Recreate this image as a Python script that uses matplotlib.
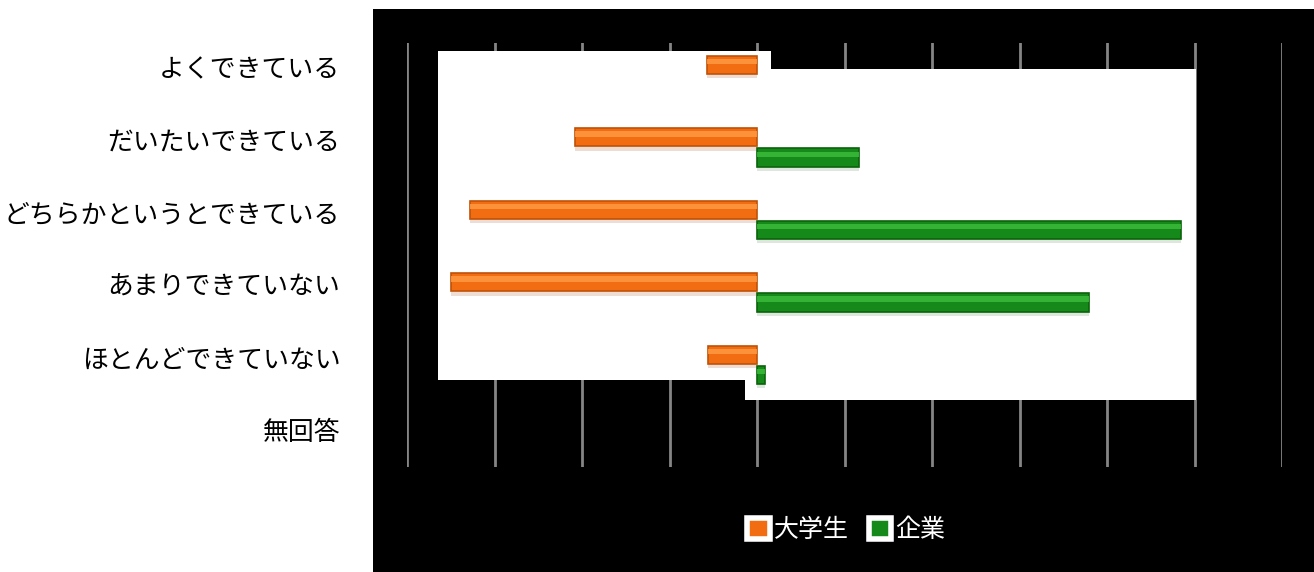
import matplotlib
matplotlib.use("Agg")
import matplotlib.pyplot as plt
from matplotlib.patches import Rectangle, Patch

plt.rcParams['font.family'] = ['Noto Sans CJK JP', 'DejaVu Sans']

categories = ["よくできている", "だいたいできている", "どちらかというとできている",
              "あまりできていない", "ほとんどできていない", "無回答"]
students = [5.7, 20.8, 32.8, 35.0, 5.6, 0.0]    # 大学生 (drawn to the left)
companies = [0.0, 11.7, 48.5, 37.9, 0.9, 0.0]   # 企業 (drawn to the right)
series_names = ["大学生", "企業"]
xticks = list(range(-40, 61, 10))

ORANGE, ORANGE_HI, ORANGE_EDGE = "#F26C12", "#FF9E45", "#BF5208"
GREEN, GREEN_HI, GREEN_EDGE = "#15891A", "#3DBE3D", "#0B640B"

W, H = 1314, 572
fig = plt.figure(figsize=(W / 100, H / 100), dpi=100)
fig.patch.set_facecolor("white")

# background layer in pixel coordinates: black panel
bg = fig.add_axes([0, 0, 1, 1])
bg.set_xlim(0, W)
bg.set_ylim(H, 0)
bg.axis("off")
bg.add_patch(Rectangle((373, 9), W - 373, H - 9, facecolor="black", zorder=1))

ax = fig.add_axes([407 / W, 1 - 467 / H, 875 / W, 424 / H])
ax.patch.set_alpha(0)
ax.set_xlim(-40, 60)
ax.set_ylim(5.52, -0.33)
ax.set_xticks(xticks)
ax.xaxis.grid(True, color="#858585", linewidth=2)
ax.set_axisbelow(True)
for s in ax.spines.values():
    s.set_visible(False)
ax.tick_params(axis="x", length=0, labelbottom=False)
ax.set_yticks(range(len(categories)))
ax.set_yticklabels(categories, fontsize=18.6)
ax.tick_params(axis="y", length=0, pad=48)

# white boxes that sit over the grid (behind the bars)
white_boxes = fig.add_axes([0, 0, 1, 1])
white_boxes.set_xlim(0, W)
white_boxes.set_ylim(H, 0)
white_boxes.axis("off")
white_boxes.add_patch(Rectangle((438, 51), 333, 329, facecolor="white"))
white_boxes.add_patch(Rectangle((745, 69), 451, 331, facecolor="white"))
white_boxes.set_zorder(ax.get_zorder() + 0.5)

bars = fig.add_axes(ax.get_position())
bars.set_zorder(ax.get_zorder() + 1)
bars.patch.set_alpha(0)
bars.set_xlim(ax.get_xlim())
bars.set_ylim(ax.get_ylim())
bars.axis("off")

h = 0.25


def draw_series(values, offset, color, hi, edge, shadow, sign):
    pts = [(i + offset, sign * v) for i, v in enumerate(values) if v > 0]
    ys = [p[0] for p in pts]
    ws = [p[1] for p in pts]
    bars.barh([y + 0.06 for y in ys], ws, height=h, color=shadow, zorder=1)
    bars.barh(ys, ws, height=h, color=color, edgecolor=edge, linewidth=1.2, zorder=2)
    bars.barh([y - 0.045 for y in ys], ws, height=h * 0.3, color=hi, alpha=0.8,
              linewidth=0, zorder=3)


draw_series(students, -0.03, ORANGE, ORANGE_HI, ORANGE_EDGE, "#EEDDD4", -1)
draw_series(companies, 0.25, GREEN, GREEN_HI, GREEN_EDGE, "#DDE7DD", 1)

handles = [Patch(facecolor=ORANGE, edgecolor="white", linewidth=4),
           Patch(facecolor=GREEN, edgecolor="white", linewidth=4)]
leg = fig.legend(handles, series_names, loc="center", bbox_to_anchor=(846 / W, 1 - 530 / H),
                 ncol=2, frameon=False, fontsize=18, labelcolor="white",
                 handlelength=0.9, handleheight=0.9, handletextpad=0.15, columnspacing=0.8)

fig.savefig("out.png", dpi=100)
